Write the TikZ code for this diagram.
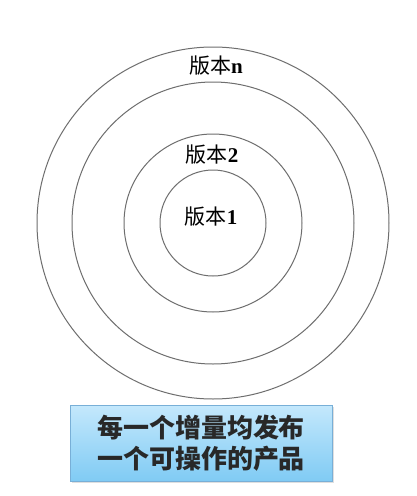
\documentclass[tikz,border=0pt]{standalone}
\usepackage{fontspec}
\setmainfont{Liberation Serif}
\newfontfamily\cjk{Noto Sans CJK SC}
\usetikzlibrary{positioning}
\usetikzlibrary{shadows}
\definecolor{anilloGris}{RGB}{110,110,110}
\definecolor{cajaArriba}{RGB}{196,232,252}
\definecolor{cajaAbajo}{RGB}{128,203,244}
\definecolor{cajaBorde}{RGB}{120,175,215}
\definecolor{textoOscuro}{RGB}{40,40,40}
\tikzset{
  anillo/.style={
    circle, draw=anilloGris, line width=1pt, inner sep=0pt
  },
  version/.style={
    font=\cjk\fontsize{21}{24}\selectfont, text=black, inner sep=0pt
  },
  nota/.style={
    rectangle, draw=cajaBorde, line width=0.8pt,
    top color=cajaArriba, bottom color=cajaAbajo,
    minimum width=262pt, minimum height=76pt, align=center,
    font=\cjk\bfseries\fontsize{26}{31}\selectfont, text=textoOscuro,
    drop shadow={shadow xshift=1.5pt, shadow yshift=-1.5pt, opacity=0.25}
  }
}
\newcommand{\vnum}[1]{{\rmfamily\bfseries #1}}

\begin{document}
\begin{tikzpicture}
  \useasboundingbox[fill=white] (0,0) rectangle (416pt,-496pt);
  \coordinate (centro) at (213pt,-223pt);

  \node[anillo, minimum size=352pt] (ringn) at (centro) {};
  \node[anillo, minimum size=282pt] (ring3) at (centro) {};
  \node[anillo, minimum size=178pt] (ring2) at (centro) {};
  \node[anillo, minimum size=106pt] (ring1) at (centro) {};

  \node[version] (vern) at (216pt,-66pt) {版本\vnum{n}};
  \node[version] (ver2) at (212pt,-155pt) {版本\vnum{2}};
  \node[version] (ver1) at (211pt,-217pt) {版本\vnum{1}};

  \node[nota] (resumen) at (201pt,-443pt) {每一个增量均发布\\一个可操作的产品};
\end{tikzpicture}
\end{document}
